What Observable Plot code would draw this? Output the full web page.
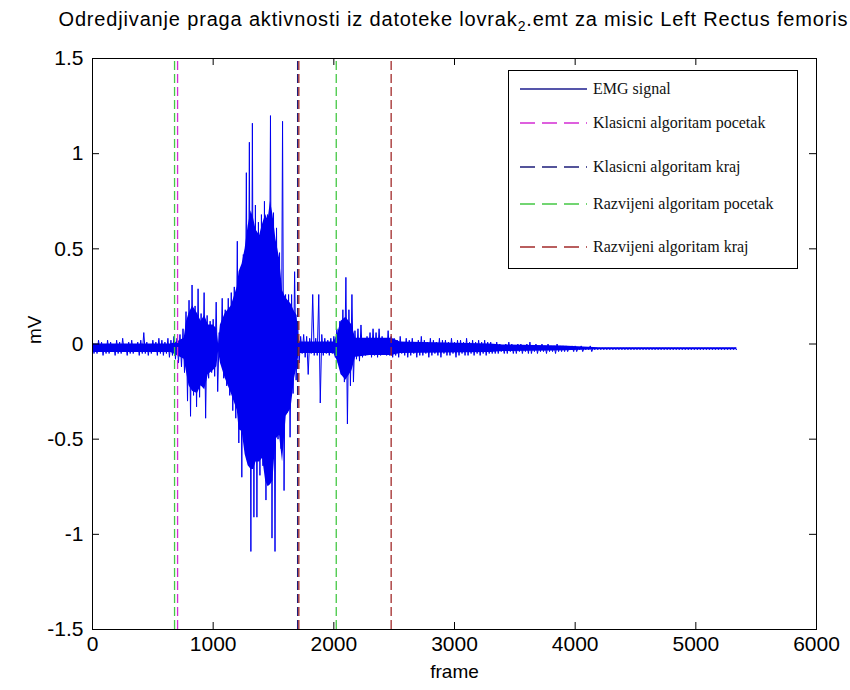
<!DOCTYPE html>
<html>
<head>
<meta charset="utf-8">
<script src="https://cdn.jsdelivr.net/npm/d3@7"></script>
<script src="https://cdn.jsdelivr.net/npm/@observablehq/plot@0.6"></script>
<style>
  body { margin: 0; background: #fff; }
  svg { display: block; }
</style>
</head>
<body>
<div id="chart"></div>
<script>
// EMG peaks: one high/low pair per block of emgStep frames (mV)
const emgStep = 25;
const emgHigh = [
  0.01,0.00,0.02,0.01,0.00,0.02,0.01,0.00,0.02,0.01,0.03,0.00,0.01,0.02,0.00,0.01,0.02,0.06,0.01,0.00,0.02,0.01,0.03,0.02,0.01,0.03,0.02,0.04,
  0.03,0.05,0.08,0.17,0.23,0.31,0.20,0.29,0.16,0.27,0.15,0.12,0.13,0.22,0.06,0.24,0.18,0.24,0.27,0.30,
  0.54,0.35,0.47,0.90,1.06,1.16,0.73,0.64,0.68,0.75,0.68,1.20,0.69,0.61,0.48,1.17,
  0.26,0.26,0.26,0.38,0.12,0.04,0.05,0.04,0.03,0.26,0.03,0.26,0.05,0.03,0.02,0.03,
  0.04,0.08,0.12,0.18,0.35,0.18,0.26,0.07,0.08,0.10,0.03,0.04,0.06,0.08,0.06,0.08,
  0.04,0.03,0.07,0.04,
  0.03,0.02,0.04,0.01,0.03,0.02,0.03,0.01,0.02,0.04,0.02,0.01,0.03,0.02,0.01,0.03,0.02,0.02,0.01,0.03,0.01,0.02,0.02,0.01,0.03,0.01,0.02,0.01,0.02,0.01,0.02,0.01,0.01,
  0.00,0.01,0.00,-0.01,0.00,0.01,0.00,-0.01,0.00,0.00,-0.01,0.00,0.01,-0.01,0.00,-0.01,0.00,-0.01,0.00,-0.01,-0.01,0.00,-0.01,
  -0.01,-0.01,-0.02,-0.01,-0.01,-0.02,-0.01,-0.02,-0.02,-0.01,-0.02,-0.02,-0.02,
  -0.02,-0.02,-0.02,-0.02,-0.02,-0.02,-0.02,-0.02,-0.02,-0.02,-0.02,-0.02,-0.02,-0.02,-0.02,
  -0.02,-0.02,-0.02,-0.02,-0.02,-0.02,-0.02,-0.02,-0.02,-0.02,-0.02,-0.02,-0.02,-0.02,-0.02,
  -0.02,-0.02,-0.02,-0.02,-0.02,-0.02,-0.02,-0.02,-0.02,-0.02,-0.02,-0.02,-0.02,-0.02,-0.02
];
const emgLow = [
  -0.05,-0.05,-0.04,-0.06,-0.05,-0.05,-0.04,-0.06,-0.05,-0.05,-0.04,-0.06,-0.05,-0.05,-0.04,-0.06,-0.05,-0.05,-0.06,-0.05,-0.04,-0.06,-0.05,-0.06,-0.05,-0.07,-0.06,-0.08,
  -0.10,-0.12,-0.15,-0.30,-0.38,-0.27,-0.33,-0.28,-0.22,-0.39,-0.18,-0.15,-0.17,-0.25,-0.10,-0.18,-0.22,-0.27,-0.35,-0.39,
  -0.52,-0.70,-0.46,-0.61,-1.09,-0.91,-0.91,-0.69,-0.64,-0.82,-0.50,-1.02,-1.09,-0.50,-0.55,-0.77,
  -0.36,-0.49,-0.26,-0.19,-0.10,-0.05,-0.07,-0.16,-0.05,-0.06,-0.06,-0.31,-0.06,-0.05,-0.06,-0.05,
  -0.07,-0.10,-0.16,-0.20,-0.42,-0.22,-0.20,-0.08,-0.09,-0.07,-0.06,-0.05,-0.07,-0.06,-0.07,-0.06,
  -0.05,-0.06,-0.06,-0.07,
  -0.06,-0.07,-0.05,-0.06,-0.07,-0.06,-0.05,-0.07,-0.06,-0.06,-0.05,-0.07,-0.06,-0.05,-0.06,-0.07,-0.05,-0.06,-0.06,-0.05,-0.07,-0.06,-0.05,-0.06,-0.06,-0.05,-0.06,-0.05,-0.06,-0.05,-0.06,-0.05,-0.05,
  -0.05,-0.05,-0.04,-0.05,-0.05,-0.04,-0.05,-0.05,-0.04,-0.05,-0.04,-0.05,-0.05,-0.04,-0.05,-0.04,-0.04,-0.05,-0.04,-0.04,-0.05,-0.04,-0.04,
  -0.04,-0.04,-0.03,-0.04,-0.04,-0.03,-0.04,-0.03,-0.03,-0.04,-0.03,-0.03,-0.03,
  -0.03,-0.03,-0.03,-0.03,-0.03,-0.03,-0.03,-0.03,-0.03,-0.03,-0.03,-0.03,-0.03,-0.03,-0.03,
  -0.03,-0.03,-0.03,-0.03,-0.03,-0.03,-0.03,-0.03,-0.03,-0.03,-0.03,-0.03,-0.03,-0.03,-0.03,
  -0.03,-0.03,-0.03,-0.03,-0.03,-0.03,-0.03,-0.03,-0.03,-0.03,-0.03,-0.03,-0.03,-0.03,-0.03
];

// Solid core of the trace, where the samples are too dense to separate (frame, mV)
const coreFrame = [0, 650, 700, 760, 780, 800, 830, 870, 900, 930, 960, 1000, 1030, 1045, 1060, 1100, 1150, 1200, 1215, 1240, 1265, 1290, 1315, 1335, 1355, 1385, 1410, 1435, 1455, 1475, 1495, 1520, 1550, 1575, 1605, 1645, 1675, 1695, 1710, 1720, 2000, 2030, 2060, 2100, 2150, 2180, 2300, 2480, 2550, 3300, 3400, 3900, 4200, 5340];
const coreHigh  = [0.00, 0.00, 0.01, 0.03, 0.12, 0.16, 0.20, 0.16, 0.12, 0.15, 0.10, 0.10, 0.08, 0.00, 0.10, 0.16, 0.20, 0.30, 0.38, 0.42, 0.50, 0.62, 0.70, 0.66, 0.60, 0.57, 0.63, 0.68, 0.65, 0.75, 0.68, 0.55, 0.45, 0.28, 0.24, 0.21, 0.17, 0.15, 0.03, 0.01, 0.01, 0.05, 0.12, 0.14, 0.10, 0.03, 0.03, 0.03, 0.01, 0.00, -0.005, -0.01, -0.02, -0.02];
const coreLow   = [-0.045, -0.045, -0.06, -0.08, -0.15, -0.22, -0.25, -0.26, -0.22, -0.24, -0.16, -0.14, -0.12, -0.04, -0.10, -0.18, -0.26, -0.35, -0.45, -0.46, -0.58, -0.64, -0.66, -0.66, -0.62, -0.62, -0.60, -0.72, -0.75, -0.74, -0.72, -0.50, -0.48, -0.62, -0.38, -0.34, -0.18, -0.12, -0.06, -0.05, -0.05, -0.09, -0.16, -0.19, -0.14, -0.07, -0.06, -0.06, -0.05, -0.045, -0.04, -0.035, -0.03, -0.03];

// Detected activation boundaries (frame)
const klasicniPocetak = [705];
const klasicniKraj = [1700];
const razvijeniPocetak = [680, 2020];
const razvijeniKraj = [1710, 2475];

const xTicks = [0, 1000, 2000, 3000, 4000, 5000, 6000];
const yTicks = [-1.5, -1, -0.5, 0, 0.5, 1, 1.5];

const legendLabels = [
  "EMG signal",
  "Klasicni algoritam pocetak",
  "Klasicni algoritam kraj",
  "Razvijeni algoritam pocetak",
  "Razvijeni algoritam kraj"
];

const colors = {
  emg: "#0000f0",
  emgKey: "#1c1c8e",
  klasicniPocetak: "#d42cd4",
  klasicniKraj: "#1c1c7a",
  razvijeniPocetak: "#44c844",
  razvijeniKraj: "#a22a2a"
};

const W = 850, H = 690;
const mL = 92, mR = 34, mT = 58, mB = 61;
const innerW = W - mL - mR, innerH = H - mT - mB;
const tickLen = 7;

// zig-zag through each block's high and low peak
const emg = emgHigh.flatMap((hi, i) => [
  {frame: i * emgStep, mv: hi},
  {frame: i * emgStep + emgStep / 2, mv: emgLow[i]}
]);
const core = coreFrame.map((f, i) => ({frame: f, hi: coreHigh[i], lo: coreLow[i]}));

const dash = "9,4";
const boundary = (values, color) =>
  Plot.ruleX(values, {x: d => d, y1: -1.5, y2: 1.5, stroke: color, strokeWidth: 1.3, strokeDasharray: dash});

const fmt = d => String(d);

const svg = Plot.plot({
  width: W,
  height: H,
  marginLeft: mL,
  marginRight: mR,
  marginTop: mT,
  marginBottom: mB,
  style: {fontFamily: "'Liberation Sans', Arial, sans-serif", fontSize: "21px", color: "#000", background: "#fff"},
  x: {domain: [0, 6000], ticks: xTicks, tickSize: 0, tickPadding: 7, tickFormat: fmt, label: null},
  y: {domain: [-1.5, 1.5], ticks: yTicks, tickSize: 0, tickPadding: 9, tickFormat: fmt, label: null},
  marks: [
    Plot.areaY(core, {x: "frame", y1: "lo", y2: "hi", fill: colors.emg}),
    Plot.line(emg, {x: "frame", y: "mv", stroke: colors.emg, strokeWidth: 1}),
    boundary(razvijeniPocetak, colors.razvijeniPocetak),
    boundary(klasicniPocetak, colors.klasicniPocetak),
    boundary(klasicniKraj, colors.klasicniKraj),
    boundary(razvijeniKraj, colors.razvijeniKraj),
    // inward tick marks on all four sides
    Plot.tickX(xTicks, {x: d => d, insetTop: innerH - tickLen, stroke: "#000"}),
    Plot.tickX(xTicks, {x: d => d, insetBottom: innerH - tickLen, stroke: "#000"}),
    Plot.tickY(yTicks, {y: d => d, insetRight: innerW - tickLen, stroke: "#000"}),
    Plot.tickY(yTicks, {y: d => d, insetLeft: innerW - tickLen, stroke: "#000"}),
    Plot.frame({stroke: "#000"}),
    Plot.text(["frame"], {text: d => d, frameAnchor: "bottom", dy: 48, fontSize: 19}),
    Plot.text(["mV"], {text: d => d, frameAnchor: "left", dx: -58, rotate: -90, fontSize: 19})
  ]
});

const root = d3.select(svg);

// title with the subscripted file index
const title = root.append("text")
  .attr("x", 453)
  .attr("y", 26)
  .attr("text-anchor", "middle")
  .attr("textLength", 789)
  .attr("lengthAdjust", "spacing")
  .attr("font-family", "'Liberation Sans', Arial, sans-serif")
  .attr("font-size", 20)
  .attr("fill", "#000");
title.append("tspan").text("Odredjivanje praga aktivnosti iz datoteke lovrak");
title.append("tspan").attr("dy", 5).attr("font-size", 14).text("2");
title.append("tspan").attr("dy", -5).text(".emt za misic Left Rectus femoris");

// legend box
const lg = root.append("g").attr("text-anchor", "start");
lg.append("rect")
  .attr("x", 508.5).attr("y", 70.5).attr("width", 289).attr("height", 198)
  .attr("fill", "#fff").attr("stroke", "#000");
const keyY = [89, 123, 167, 204, 247];
const keyStroke = [colors.emgKey, colors.klasicniPocetak, colors.klasicniKraj, colors.razvijeniPocetak, colors.razvijeniKraj];
const keyDash = [null, "15,7", "15,7", "15,7", "15,7"];
legendLabels.forEach((label, i) => {
  lg.append("line")
    .attr("x1", 520).attr("x2", 587)
    .attr("y1", keyY[i]).attr("y2", keyY[i])
    .attr("stroke", keyStroke[i]).attr("stroke-width", 1.3)
    .attr("stroke-dasharray", keyDash[i]);
  lg.append("text")
    .attr("x", 593).attr("y", keyY[i])
    .attr("dy", "0.33em")
    .attr("font-family", "'Liberation Serif', 'Times New Roman', serif")
    .attr("font-size", 16)
    .attr("fill", "#111")
    .text(label);
});

document.getElementById("chart").appendChild(svg);
</script>
</body>
</html>
